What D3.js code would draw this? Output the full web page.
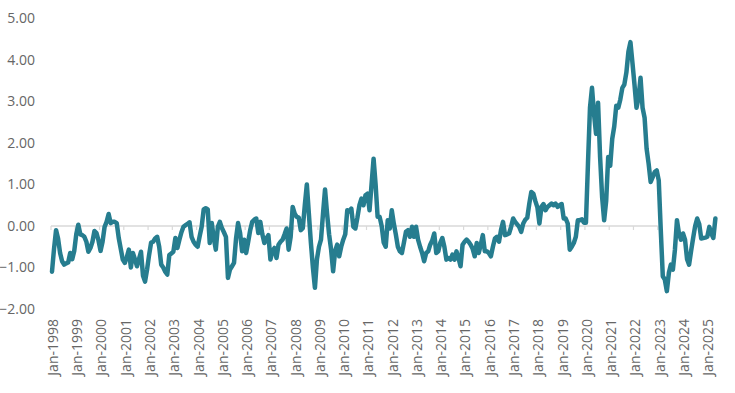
<!DOCTYPE html>
<html>
<head>
<meta charset="utf-8">
<script src="https://cdn.jsdelivr.net/npm/d3@7"></script>
<style>
  html, body { margin: 0; padding: 0; background: #fff; }
  svg { display: block; font-family: "Open Sans", "Noto Sans", sans-serif; }
</style>
</head>
<body>
<svg id="chart" width="735" height="393"></svg>
<script>
// Monthly values, Jan-1998 .. May-2025
const values1998 = [-1.1, -0.55, -0.1, -0.3, -0.65, -0.85, -0.93, -0.9, -0.88, -0.65, -0.8, -0.6];
const values1999 = [-0.2, 0.03, -0.2, -0.22, -0.26, -0.38, -0.62, -0.53, -0.38, -0.12, -0.17, -0.35];
const values2000 = [-0.6, -0.38, -0.02, 0.1, 0.29, 0.07, 0.1, 0.1, 0.07, -0.29, -0.55, -0.81];
const values2001 = [-0.89, -0.75, -0.57, -1.0, -0.65, -0.8, -0.97, -0.8, -0.62, -1.2, -1.34, -1.05];
const values2002 = [-0.7, -0.4, -0.38, -0.3, -0.26, -0.5, -0.93, -1.0, -1.1, -1.17, -0.7, -0.66];
const values2003 = [-0.62, -0.29, -0.53, -0.33, -0.15, -0.02, 0.02, 0.05, 0.09, -0.26, -0.38, -0.45];
const values2004 = [-0.5, -0.25, -0.02, 0.4, 0.43, 0.4, -0.41, 0.07, -0.3, -0.57, -0.02, 0.1];
const values2005 = [-0.05, -0.15, -0.26, -1.25, -1.05, -0.97, -0.89, -0.3, 0.07, -0.17, -0.61, -0.33];
const values2006 = [-0.65, -0.38, -0.1, 0.1, 0.15, 0.18, -0.17, 0.1, -0.2, -0.41, -0.3, -0.22];
const values2007 = [-0.81, -0.6, -0.53, -0.77, -0.45, -0.38, -0.33, -0.2, -0.06, -0.57, -0.26, 0.46];
const values2008 = [0.3, 0.22, 0.2, -0.1, -0.05, 0.5, 1.0, 0.3, -0.4, -1.0, -1.49, -0.8];
const values2009 = [-0.5, -0.33, 0.3, 0.88, 0.3, -0.2, -0.57, -1.09, -0.6, -0.45, -0.73, -0.5];
const values2010 = [-0.33, -0.2, 0.38, 0.35, 0.42, -0.02, -0.06, 0.2, 0.5, 0.66, 0.5, 0.74];
const values2011 = [0.78, 0.38, 1.0, 1.62, 1.0, 0.22, 0.22, 0.0, -0.4, -0.5, 0.14, -0.06];
const values2012 = [0.38, 0.06, -0.2, -0.5, -0.61, -0.65, -0.4, -0.14, -0.1, -0.26, -0.02, -0.26];
const values2013 = [-0.02, -0.33, -0.5, -0.65, -0.85, -0.65, -0.61, -0.45, -0.35, -0.18, -0.65, -0.61];
const values2014 = [-0.4, -0.29, -0.5, -0.81, -0.77, -0.81, -0.69, -0.81, -0.61, -0.77, -0.97, -0.45];
const values2015 = [-0.38, -0.33, -0.38, -0.45, -0.55, -0.73, -0.41, -0.65, -0.45, -0.22, -0.61, -0.61];
const values2016 = [-0.65, -0.73, -0.5, -0.3, -0.26, -0.38, -0.1, 0.1, -0.22, -0.2, -0.18, -0.02];
const values2017 = [0.18, 0.1, 0.04, -0.02, -0.14, 0.06, 0.15, 0.2, 0.54, 0.82, 0.78, 0.6];
const values2018 = [0.45, 0.06, 0.46, 0.53, 0.38, 0.46, 0.5, 0.54, 0.5, 0.54, 0.46, 0.5];
const values2019 = [0.53, 0.18, 0.18, 0.06, -0.57, -0.5, -0.41, -0.26, 0.14, 0.14, 0.16, 0.08];
const values2020 = [0.08, 1.5, 2.85, 3.33, 2.7, 2.22, 2.97, 1.66, 0.7, 0.14, 0.6, 1.66];
const values2021 = [1.45, 2.1, 2.4, 2.9, 2.85, 3.05, 3.33, 3.41, 3.7, 4.2, 4.43, 3.93];
const values2022 = [3.41, 2.85, 3.09, 3.57, 2.85, 2.61, 1.86, 1.5, 1.06, 1.18, 1.3, 1.34];
const values2023 = [1.1, -0.1, -1.21, -1.29, -1.57, -1.13, -0.93, -1.05, -0.57, 0.14, -0.18, -0.33];
const values2024 = [-0.18, -0.33, -0.8, -0.93, -0.6, -0.29, 0.0, 0.18, 0.05, -0.3, -0.29, -0.28];
const values2025 = [-0.26, -0.02, -0.18, -0.29, 0.18];

const startYear = 1998;
const yTickValues = [5, 4, 3, 2, 1, 0, -1, -2];
const xTickYears = d3.range(1998, 2026);
const xTickLabels = xTickYears.map(y => "Jan-" + y);

const values = [].concat(values1998, values1999, values2000, values2001, values2002,
  values2003, values2004, values2005, values2006, values2007, values2008, values2009,
  values2010, values2011, values2012, values2013, values2014, values2015, values2016,
  values2017, values2018, values2019, values2020, values2021, values2022, values2023,
  values2024, values2025);

const svg = d3.select("#chart");
const n = values.length;
const monthPx = 2.0225;

const x = d3.scaleLinear().domain([0, n - 1]).range([52, 52 + (n - 1) * monthPx]);
const y = d3.scaleLinear().domain([-2, 5]).range([309, 18.5]);

// Y labels
svg.append("g").selectAll("text")
  .data(yTickValues)
  .join("text")
  .attr("x", 35)
  .attr("y", d => y(d))
  .attr("dy", "0.35em")
  .attr("text-anchor", "end")
  .attr("font-size", 14)
  .attr("fill", "#666666")
  .text(d => d3.format(".2f")(d));

// Category axis along zero (ends at Jan-2023 boundary as in reference)
const axisEnd = 300 - 0.5;
const axisG = svg.append("g").attr("transform", `translate(0,${y(0)})`);
axisG.append("line")
  .attr("x1", x(-0.5)).attr("x2", x(axisEnd))
  .attr("stroke", "#d9d9d9").attr("stroke-width", 1.5);
axisG.selectAll("line.tick")
  .data(d3.range(0, axisEnd + 1, 12))
  .join("line")
  .attr("class", "tick")
  .attr("x1", d => x(d - 0.5)).attr("x2", d => x(d - 0.5))
  .attr("y1", 0).attr("y2", 4)
  .attr("stroke", "#d9d9d9").attr("stroke-width", 1.2);

// X labels (rotated)
svg.append("g").selectAll("text")
  .data(xTickYears)
  .join("text")
  .attr("transform", (d, i) => `translate(${x((d - startYear) * 12) + 1},319) rotate(-90)`)
  .attr("dy", "0.35em")
  .attr("text-anchor", "end")
  .attr("font-size", 14)
  .attr("fill", "#666666")
  .text((d, i) => xTickLabels[i]);

// Line
const line = d3.line()
  .x((d, i) => x(i))
  .y(d => y(d))
  .curve(d3.curveLinear);

svg.append("path")
  .datum(values)
  .attr("d", line)
  .attr("fill", "none")
  .attr("stroke", "#267d8f")
  .attr("stroke-width", 4.5)
  .attr("stroke-linejoin", "round")
  .attr("stroke-linecap", "round");
</script>
</body>
</html>
